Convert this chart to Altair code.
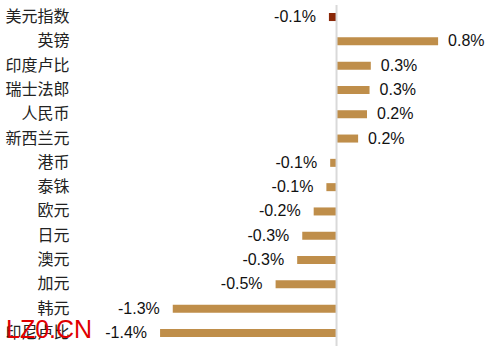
import altair as alt
import pandas as pd

currencies = ["美元指数", "英镑", "印度卢比", "瑞士法郎", "人民币", "新西兰元", "港币",
              "泰铢", "欧元", "日元", "澳元", "加元", "韩元", "印尼卢比"]
changes = [-0.06, 0.80, 0.27, 0.26, 0.24, 0.17, -0.05, -0.08, -0.18, -0.27, -0.31, -0.48, -1.29, -1.39]
watermark = "LZ0.CN"

df = pd.DataFrame({"currency": currencies, "value": changes})

W, H = 405, 340
yenc = alt.Y("currency:N", sort=currencies, title=None,
             scale=alt.Scale(paddingInner=0.67, paddingOuter=0.33),
             axis=alt.Axis(ticks=False, domain=False, grid=False, labelPadding=6,
                           labelFont="Noto Sans CJK SC", labelFontSize=16,
                           labelColor="#222222"))
xscale = alt.Scale(domain=[-2.06, 1.13], nice=False, zero=False)

bars = alt.Chart(df).mark_bar().encode(
    y=yenc,
    x=alt.X("value:Q", scale=xscale, axis=None),
    x2=alt.X2(datum=0),
    color=alt.condition("datum.currency == '美元指数'", alt.value("#8A2808"), alt.value("#BF8E4A")),
)

txt = alt.Chart(df).transform_calculate(
    lab="(datum.value < 0 ? '-' : '') + format(abs(datum.value), '.1f') + '%'"
)
pos = txt.transform_filter("datum.value >= 0").mark_text(
    align="left", dx=10, font="Liberation Sans", fontSize=16, color="#111111"
).encode(y=alt.Y("currency:N", sort=currencies), x=alt.X("value:Q", scale=xscale, axis=None), text="lab:N")
neg = txt.transform_filter("datum.value < 0").mark_text(
    align="right", dx=-13, font="Liberation Sans", fontSize=16, color="#111111"
).encode(y=alt.Y("currency:N", sort=currencies), x=alt.X("value:Q", scale=xscale, axis=None), text="lab:N")

rule = alt.Chart(pd.DataFrame({"z": [0]})).mark_rule(color="#d9d9d9", strokeWidth=2).encode(
    x=alt.X("z:Q", scale=xscale, axis=None), y=alt.value(0), y2=alt.value(H + 1)
)

wm = alt.Chart(pd.DataFrame({"t": [watermark]})).mark_text(
    align="left", baseline="alphabetic", font="Liberation Sans", fontSize=25, color="#e00000"
).encode(x=alt.value(-69), y=alt.value(333), text="t:N")

chart = alt.layer(bars, rule, pos, neg, wm).properties(
    width=W, height=H,
    background="white",
    autosize=alt.AutoSizeParams(type="none"),
    padding={"left": 75, "top": 5, "right": 8, "bottom": 5},
).configure_view(stroke=None, strokeWidth=0).configure_axis(
    domain=False, grid=False, ticks=False
)

chart.save("out.html", embed_options={"renderer": "svg", "actions": False})
